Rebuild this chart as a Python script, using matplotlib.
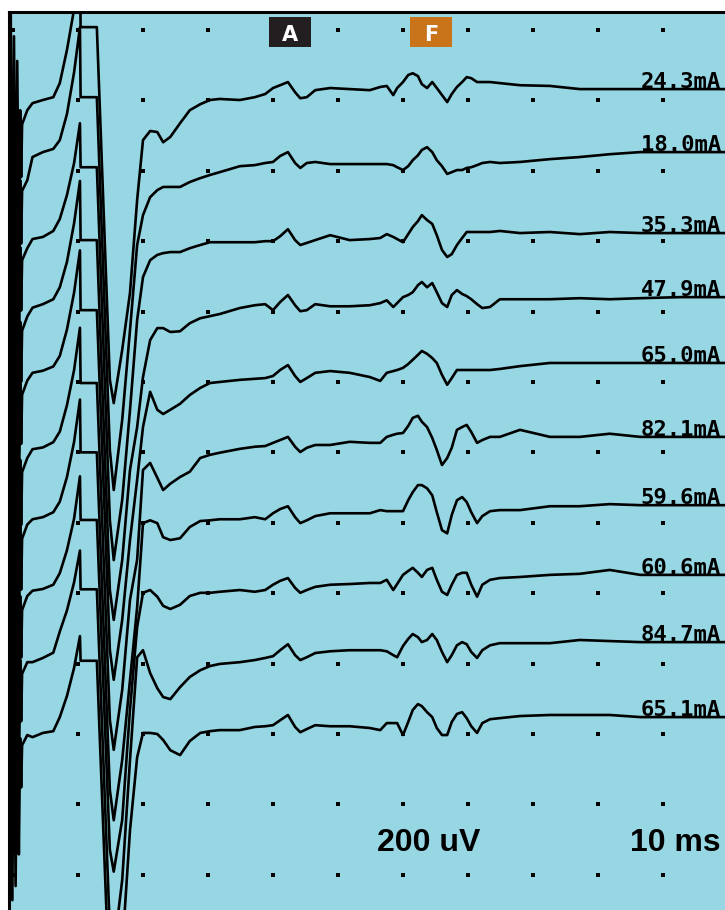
import numpy as np
import matplotlib
matplotlib.use("Agg")
import matplotlib.pyplot as plt
from matplotlib.patches import Rectangle

# sweep time base shared by all traces (ms after stimulus)
t_ms = [-0.6, -0.35, -0.1, 0.15, 0.4, 0.65, 0.9, 1.1, 1.25, 1.4,
        2.2, 3.0, 4.6, 6.2, 7.2, 8.3, 9.4, 10.3, 10.4, 12.9,
        14.9, 15.5, 16.8, 18.0, 19.1, 20.0, 21.1, 22.2, 23.1, 24.2,
        25.7, 27.2, 28.8, 30.3, 31.8, 34.9, 37.2, 38.8, 40.0, 41.1,
        42.3, 43.4, 44.2, 45.2, 46.5, 48.8, 51.8, 54.9, 56.5, 57.5,
        58.5, 59.1, 60.0, 60.8, 61.5, 62.3, 62.9, 63.7, 64.5, 65.2,
        66.0, 66.8, 67.5, 68.3, 69.1, 69.8, 70.5, 71.4, 72.2, 73.4,
        74.9, 78.0, 82.6, 87.2, 91.8, 96.5, 102.6, 109.5]

# amplitude of each sweep (uV, relative to its own baseline)
trace_1 = [-110, 230, -620, 150, -560, 80, -450, -60, -250, -100,
           -60, -40, -31, -23, 17, 111, 227, 341, 176, 176,
           -826, -892, -741, -579, -315, -145, -119, -122, -151, -136,
           -97, -60, -43, -31, -28, -31, -23, -14, 3, 11,
           20, -9, -26, -23, -3, 3, 0, -3, 6, 9,
           -17, 3, 20, 40, 45, 37, 14, 3, 20, 3,
           -17, -37, -14, 6, 20, 34, 31, 20, 20, 20,
           17, 11, 9, 0, 0, 0, 0, 0]
trace_2 = [-120, 210, -600, 120, -580, 60, -430, -80, -260, -110,
           -80, -14, 0, 9, 34, 108, 227, 355, 156, 156,
           -846, -960, -761, -506, -264, -179, -128, -108, -99, -99,
           -99, -85, -74, -65, -57, -40, -37, -31, -28, -11,
           0, -31, -45, -31, -28, -34, -34, -34, -34, -34,
           -37, -43, -51, -40, -23, -9, 6, 14, 0, -23,
           -40, -62, -57, -51, -51, -45, -43, -37, -31, -28,
           -31, -28, -20, -14, -6, 0, 0, 0]
trace_3 = [-100, 250, -640, 170, -540, 90, -400, -40, -220, -77,
           -43, -17, -11, 6, 40, 108, 199, 312, 187, 187,
           -815, -929, -758, -503, -247, -125, -77, -62, -57, -54,
           -54, -43, -34, -26, -26, -26, -26, -23, -23, -9,
           11, -20, -34, -28, -20, -6, -20, -17, -14, -3,
           -11, -17, -26, -3, 17, 34, 51, 37, 26, -6,
           -48, -68, -60, -34, -14, 3, 3, 3, 3, 3,
           6, 0, 3, -3, 3, 0, 0, 0]
trace_4 = [-115, 220, -610, 140, -570, 70, -440, -70, -240, -95,
           -55, -30, -20, -6, 28, 100, 210, 330, 162, 162,
           -832, -917, -747, -491, -369, -227, -122, -88, -88, -99,
           -97, -74, -60, -54, -48, -31, -23, -20, -37, -14,
           6, -23, -40, -37, -20, -26, -26, -23, -17, -9,
           -28, -17, 0, 6, 14, 34, 43, 28, 40, 14,
           -17, -28, 6, 20, 9, 3, -6, -20, -31, -28,
           -6, -6, -6, -3, -6, -3, 0, 0]
trace_5 = [-105, 240, -630, 160, -550, 85, -420, -50, -230, -90,
           -50, -28, -22, -10, 20, 95, 200, 320, 150, 150,
           -815, -900, -730, -503, -332, -182, -82, -133, -145, -133,
           -116, -91, -71, -57, -54, -48, -45, -43, -37, -20,
           -6, -37, -54, -43, -28, -23, -28, -40, -51, -28,
           -23, -20, -14, -3, 9, 23, 34, 26, 14, 0,
           -34, -62, -43, -20, -20, -20, -20, -20, -20, -20,
           -17, -9, 0, 0, 0, 0, 0, 0]
trace_6 = [-120, 225, -600, 130, -560, 75, -410, -65, -250, -100,
           -60, -35, -30, -15, 15, 90, 190, 310, 153, 153,
           -804, -889, -719, -463, -349, -94, -74, -116, -151, -133,
           -114, -99, -60, -51, -45, -34, -28, -26, -17, -9,
           0, -28, -43, -31, -23, -23, -14, -17, -17, 0,
           6, 9, 11, 31, 54, 60, 43, 28, -3, -37,
           -80, -60, -31, 20, 28, 34, 14, -17, -9, 0,
           0, 20, 0, 0, 9, 0, 0, 0]
trace_7 = [-110, 235, -620, 150, -545, 80, -430, -55, -240, -95,
           -55, -40, -34, -20, 10, 80, 180, 300, 150, 150,
           -809, -895, -724, -497, -290, -51, -43, -51, -91, -99,
           -94, -62, -45, -43, -40, -40, -34, -40, -23, -11,
           -3, -34, -51, -43, -31, -23, -23, -23, -14, -17,
           -17, -17, -17, 14, 37, 57, 57, 48, 28, -20,
           -71, -80, -28, 14, 23, 9, -20, -51, -31, -17,
           -14, -14, -3, -3, 3, 0, 0, 0]
trace_8 = [-100, 230, -610, 145, -555, 70, -425, -60, -235, -100,
           -60, -45, -40, -28, 5, 70, 160, 280, 156, 156,
           -781, -843, -696, -383, -148, -51, -43, -62, -88, -97,
           -85, -60, -51, -51, -48, -43, -48, -43, -28, -17,
           -9, -37, -51, -43, -34, -28, -26, -23, -23, -14,
           -43, -26, 0, 11, 20, 6, -6, 14, 20, -14,
           -48, -57, -28, 0, 6, 6, -28, -62, -28, -14,
           -9, -6, 0, 3, 14, 0, 0, 0]
trace_9 = [-115, 215, -590, 135, -540, 65, -415, -50, -225, -90,
           -57, -57, -45, -30, 30, 90, 170, 260, 150, 150,
           -818, -875, -676, -335, -43, -23, -88, -131, -156, -162,
           -128, -99, -80, -68, -62, -57, -51, -45, -40, -23,
           -6, -37, -51, -43, -31, -26, -23, -23, -23, -26,
           -37, -43, -11, 9, 23, 14, 0, 6, 23, 6,
           -28, -57, -37, -9, 0, -6, -28, -45, -23, -9,
           -3, -3, -3, 6, 3, 0, 0, 0]
trace_10 = [-110, 240, -520, 150, -480, 70, -390, -60, -200, -80,
            -51, -57, -45, -40, 0, 60, 140, 230, 160, 160,
            -804, -861, -662, -321, -114, -45, -45, -48, -65, -94,
            -108, -68, -45, -40, -37, -37, -28, -26, -23, -9,
            6, -28, -43, -34, -23, -26, -26, -31, -37, -17,
            -17, -17, -51, -14, 20, 37, 31, 14, 0, -31,
            -51, -51, -14, 9, 14, -3, -26, -45, -17, -6,
            -3, 3, 6, 6, 6, 0, 0, 0]

stim_labels = ["24.3mA", "18.0mA", "35.3mA", "47.9mA", "65.0mA",
               "82.1mA", "59.6mA", "60.6mA", "84.7mA", "65.1mA"]

traces = [trace_1, trace_2, trace_3, trace_4, trace_5,
          trace_6, trace_7, trace_8, trace_9, trace_10]

# where each sweep sits on the screen (uV, screen is 200 uV/div)
sweep_pos = [-168, -347, -577, -759, -946, -1156, -1350, -1548, -1739, -1952]

BG = '#97D7E3'
W, H = 725, 910

fig = plt.figure(figsize=(W / 100, H / 100), dpi=100, facecolor='white')
ax = fig.add_axes([9 / W, 0, (W - 9) / W, (H - 12) / H])
ax.set_facecolor(BG)
ax.set_xlim(-0.615, 109.54)
ax.set_ylim(-2500, 51)
ax.set_xticks([])
ax.set_yticks([])
for side in ['right', 'bottom']:
    ax.spines[side].set_visible(False)
for side in ['left', 'top']:
    ax.spines[side].set_linewidth(2.2)

# screen graticule dots (10 ms x 200 uV)
gx, gy = np.meshgrid(np.arange(0, 111, 10), np.arange(0, -2401, -200))
ax.scatter(gx.ravel(), gy.ravel(), s=5, marker='s', c='black', linewidths=0, zorder=1)

for tr, pos, lab in zip(traces, sweep_pos, stim_labels):
    y = np.array(tr) + pos
    ax.plot(t_ms, y, color='black', lw=1.9, zorder=2)
    ax.text(108.9, pos + 2, lab, ha='right', va='baseline', fontsize=16,
            fontweight='bold', family='DejaVu Sans Mono', zorder=3)

# marker boxes
fig.add_artist(Rectangle((269 / W, 1 - 47 / H), 42 / W, 30 / H,
                         transform=fig.transFigure, color='#231F20', lw=0))
fig.text(290 / W, 1 - 41 / H, 'A', color='white', ha='center', va='baseline',
         fontsize=15, fontweight='bold')
fig.add_artist(Rectangle((410 / W, 1 - 47 / H), 42 / W, 30 / H,
                         transform=fig.transFigure, color='#C9731B', lw=0))
fig.text(431 / W, 1 - 41 / H, 'F', color='white', ha='center', va='baseline',
         fontsize=15, fontweight='bold')

# sensitivity / sweep speed
fig.text(429 / W, 1 - 851 / H, '200 uV', ha='center', va='baseline',
         fontsize=23, fontweight='bold', family='Liberation Sans')
fig.text(675 / W, 1 - 851 / H, '10 ms', ha='center', va='baseline',
         fontsize=23, fontweight='bold', family='Liberation Sans')

fig.savefig('out.png', dpi=100, facecolor='white')
